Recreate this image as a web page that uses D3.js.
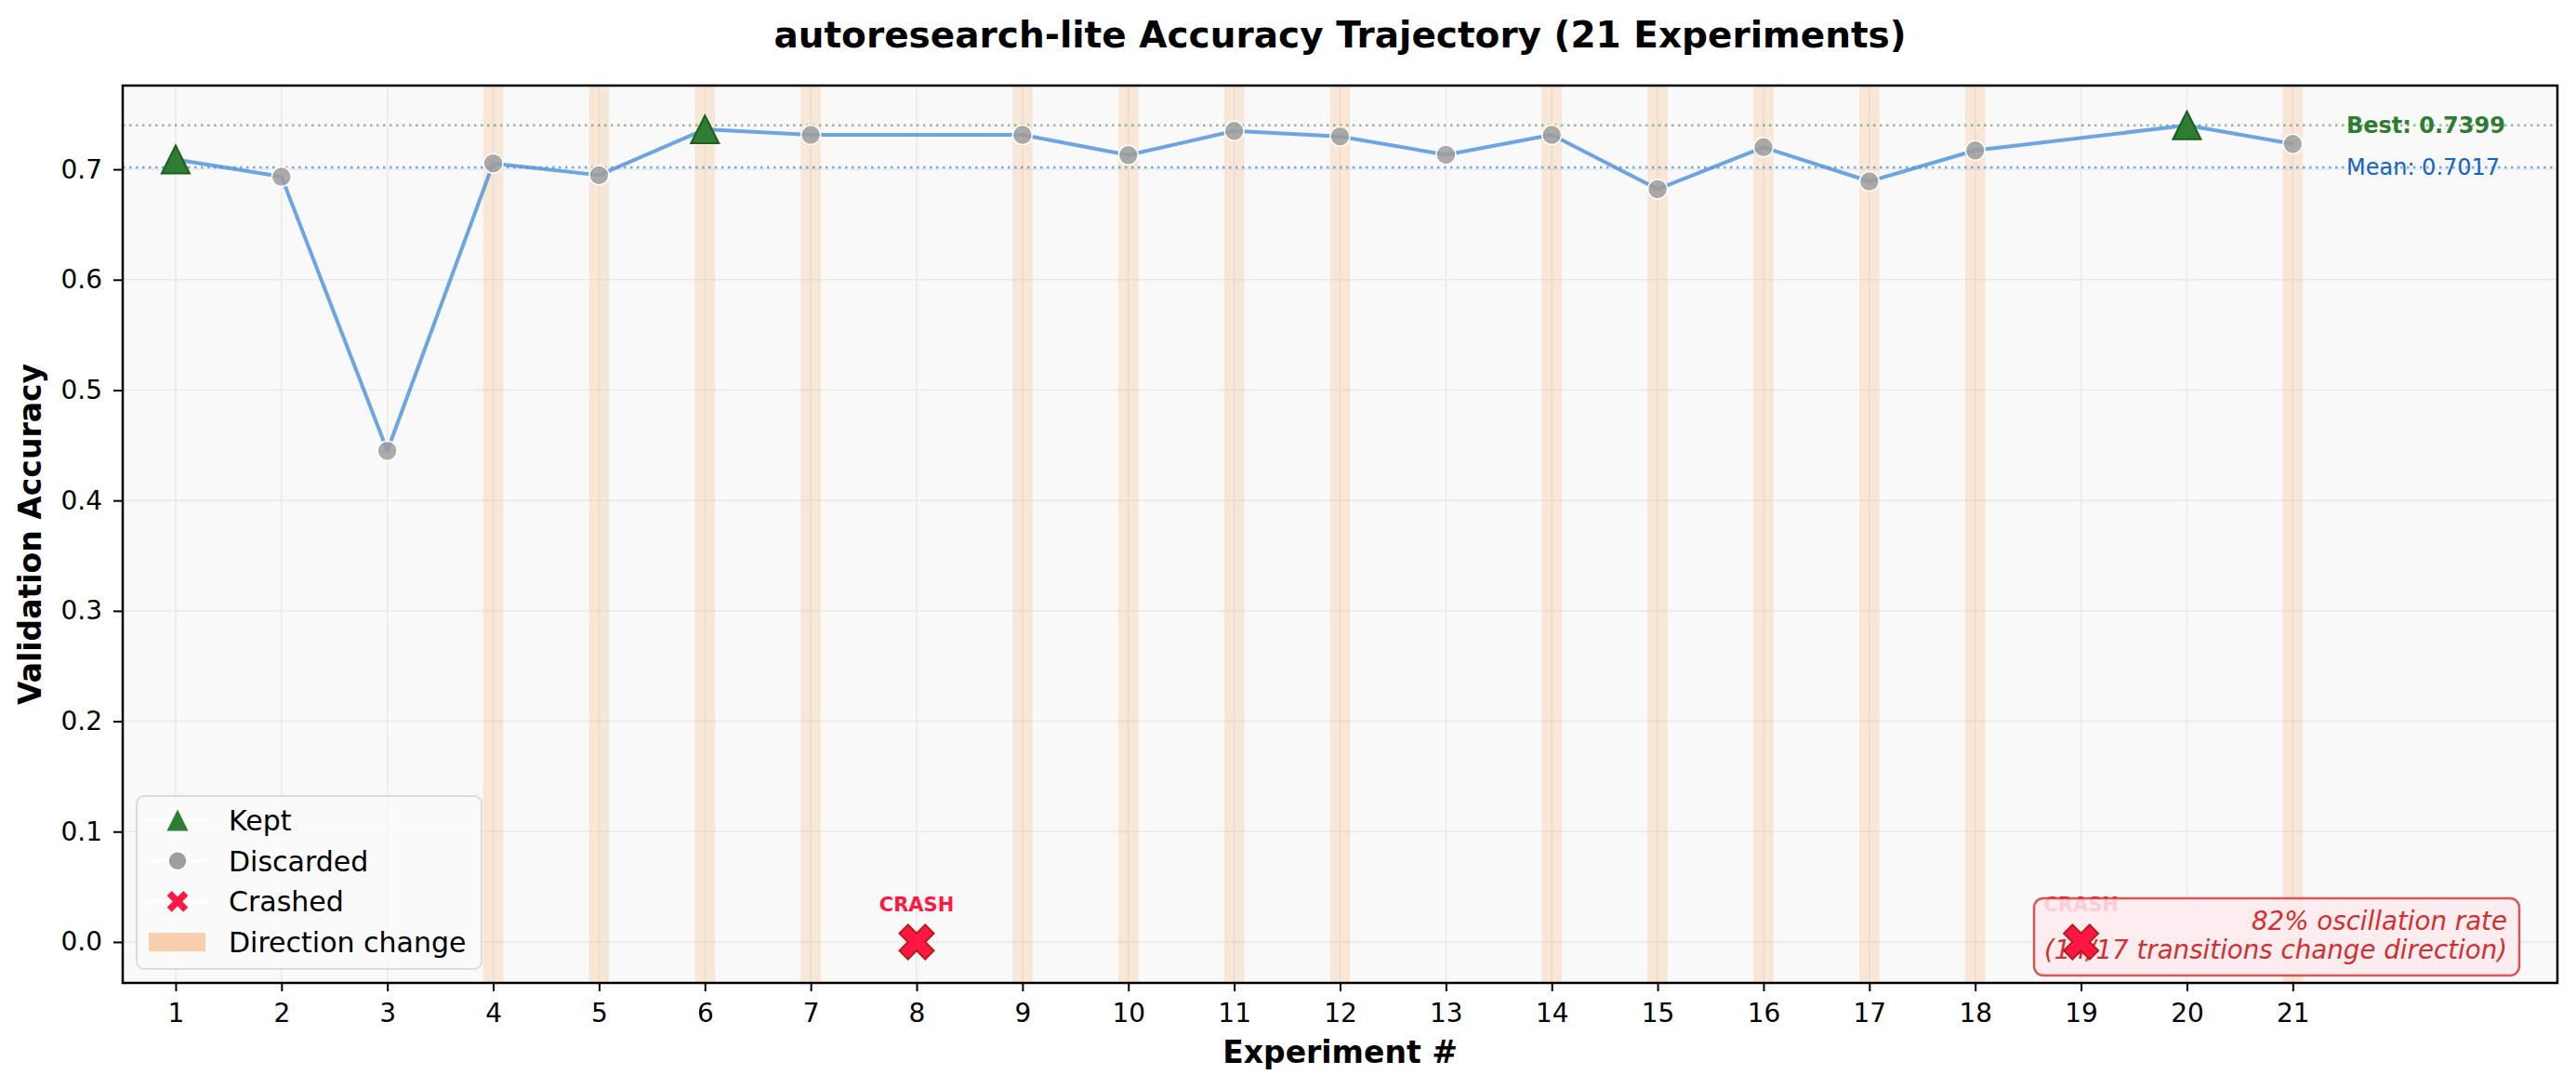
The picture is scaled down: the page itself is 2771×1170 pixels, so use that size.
<!DOCTYPE html>
<html>
<head>
<meta charset="utf-8">
<script src="https://cdn.jsdelivr.net/npm/d3@7"></script>
<style>
  body { margin: 0; background: #fff; }
  svg { display: block; font-family: "DejaVu Sans", sans-serif; }
</style>
</head>
<body>
<svg width="2771" height="1170"></svg>
<script>
// experiment numbers and outcomes
var experiments = d3.range(1, 22);
var accuracy = [0.709, 0.6933, 0.445, 0.7054, 0.6947, 0.7362, 0.7312, null, 0.7312, 0.7129,
  0.7348, 0.7298, 0.7132, 0.7312, 0.682, 0.72, 0.6891, 0.7171, null, 0.7399, 0.723];
var outcomes = ["kept", "discarded", "discarded", "discarded", "discarded", "kept", "discarded", "crash",
  "discarded", "discarded", "discarded", "discarded", "discarded", "discarded", "discarded",
  "discarded", "discarded", "discarded", "crash", "kept", "discarded"];
var directionChanges = [4, 5, 6, 7, 9, 10, 11, 12, 14, 15, 16, 17, 18, 21];
var yTicks = [0.0, 0.1, 0.2, 0.3, 0.4, 0.5, 0.6, 0.7];
var bestAcc = 0.7399;
var meanAcc = 0.7017;
var annotationLines = ["82% oscillation rate", "(14/17 transitions change direction)"];

var svg = d3.select("svg"),
  width = +svg.attr("width"),
  height = +svg.attr("height");

var plotLeft = 132, plotRight = 2751, plotTop = 92, plotBottom = 1057;

var x = d3.scaleLinear().domain([0.5, 23.5]).range([plotLeft, plotRight]);
var y = d3.scaleLinear().domain([-0.0371, 0.7759]).range([plotBottom, plotTop]);

var points = experiments.map(function(e, i) {
  return { exp: e, acc: accuracy[i], outcome: outcomes[i] };
});
var valid = points.filter(function(d) { return d.outcome !== "crash"; });
var crashes = points.filter(function(d) { return d.outcome === "crash"; });

// axes background
svg.append("rect")
  .attr("x", plotLeft).attr("y", plotTop)
  .attr("width", plotRight - plotLeft).attr("height", plotBottom - plotTop)
  .attr("fill", "#f9f9f9");

// grid
var grid = svg.append("g").attr("stroke", "#e9e9e9").attr("stroke-width", 1.5);
grid.selectAll("line.gx").data(experiments).enter().append("line")
  .attr("x1", function(d) { return x(d); }).attr("x2", function(d) { return x(d); })
  .attr("y1", plotTop).attr("y2", plotBottom);
grid.selectAll("line.gy").data(yTicks).enter().append("line")
  .attr("y1", function(d) { return y(d); }).attr("y2", function(d) { return y(d); })
  .attr("x1", plotLeft).attr("x2", plotRight);

// direction change bands
svg.append("g").selectAll("rect").data(directionChanges).enter().append("rect")
  .attr("x", function(d) { return x(d - 0.095); })
  .attr("width", function(d) { return x(d + 0.095) - x(d - 0.095); })
  .attr("y", plotTop).attr("height", plotBottom - plotTop)
  .attr("fill", "#f4a460").attr("opacity", 0.22);

// best / mean reference lines
svg.append("line")
  .attr("x1", plotLeft).attr("x2", plotRight)
  .attr("y1", y(bestAcc)).attr("y2", y(bestAcc))
  .attr("stroke", "#2e7d32").attr("stroke-opacity", 0.5)
  .attr("stroke-width", 2.5).attr("stroke-dasharray", "2.5,4.5");
svg.append("line")
  .attr("x1", plotLeft).attr("x2", plotRight)
  .attr("y1", y(meanAcc)).attr("y2", y(meanAcc))
  .attr("stroke", "#4a90d9").attr("stroke-opacity", 0.75)
  .attr("stroke-width", 2.5).attr("stroke-dasharray", "2.5,4.5");

// trajectory (crashed runs are skipped)
var line = d3.line()
  .x(function(d) { return x(d.exp); })
  .y(function(d) { return y(d.acc); });
svg.append("path")
  .datum(valid)
  .attr("d", line)
  .attr("fill", "none")
  .attr("stroke", "#4a90d9").attr("stroke-opacity", 0.8)
  .attr("stroke-width", 4).attr("stroke-linejoin", "round");

// marker shapes
function triPath(s) {
  var h = s / 2;
  return "M0," + (-h) + "L" + h + "," + h + "L" + (-h) + "," + h + "Z";
}
// filled plus rotated 45 degrees, s = bounding box side
function xPath(s) {
  var u = s / (4 * Math.SQRT2);
  var pts = [[-1, -3], [1, -3], [1, -1], [3, -1], [3, 1], [1, 1], [1, 3], [-1, 3], [-1, 1], [-3, 1], [-3, -1], [-1, -1]];
  var c = Math.SQRT1_2;
  return "M" + pts.map(function(p) {
    var px = p[0] * u, py = p[1] * u;
    return [(px - py) * c, (px + py) * c].join(",");
  }).join("L") + "Z";
}

svg.append("g").selectAll("circle")
  .data(valid.filter(function(d) { return d.outcome === "discarded"; }))
  .enter().append("circle")
  .attr("cx", function(d) { return x(d.exp); })
  .attr("cy", function(d) { return y(d.acc); })
  .attr("r", 10.5)
  .attr("fill", "#9e9e9e").attr("fill-opacity", 0.85)
  .attr("stroke", "#fff").attr("stroke-width", 1.5);

svg.append("g").selectAll("path")
  .data(valid.filter(function(d) { return d.outcome === "kept"; }))
  .enter().append("path")
  .attr("transform", function(d) { return "translate(" + x(d.exp) + "," + y(d.acc) + ")"; })
  .attr("d", triPath(30))
  .attr("fill", "#2e7d32").attr("stroke", "#1b5e20").attr("stroke-width", 2);

// crash labels sit under the annotation box
svg.append("g").selectAll("text")
  .data(crashes).enter().append("text")
  .attr("x", function(d) { return x(d.exp); })
  .attr("y", y(0) - 33)
  .attr("text-anchor", "middle")
  .attr("font-size", 21).attr("font-weight", "bold")
  .attr("fill", "#ff1744")
  .text("CRASH");

// oscillation annotation
svg.append("rect")
  .attr("x", 2188).attr("y", 966)
  .attr("width", 522).attr("height", 83)
  .attr("rx", 10)
  .attr("fill", "#ffebee").attr("fill-opacity", 0.85)
  .attr("stroke", "#d32f2f").attr("stroke-opacity", 0.8).attr("stroke-width", 2.5);
svg.append("g").selectAll("text")
  .data(annotationLines).enter().append("text")
  .attr("x", 2697)
  .attr("y", function(d, i) { return 1000 + i * 31; })
  .attr("text-anchor", "end")
  .attr("font-size", 27.7).attr("font-style", "italic")
  .attr("fill", "#d32f2f")
  .text(function(d) { return d; });

svg.append("g").selectAll("path")
  .data(crashes).enter().append("path")
  .attr("transform", function(d) { return "translate(" + x(d.exp) + "," + y(0) + ")"; })
  .attr("d", xPath(37))
  .attr("fill", "#ff1744").attr("stroke", "#b71c1c").attr("stroke-width", 2);

// best / mean labels
svg.append("text")
  .attr("x", 2524).attr("y", y(bestAcc))
  .attr("dy", "0.35em")
  .attr("font-size", 24).attr("font-weight", "bold")
  .attr("fill", "#2e7d32")
  .text("Best: " + bestAcc.toFixed(4));
svg.append("text")
  .attr("x", 2524).attr("y", y(meanAcc))
  .attr("dy", "0.35em")
  .attr("font-size", 24)
  .attr("fill", "#1565c0")
  .text("Mean: " + meanAcc.toFixed(4));

// axes
var xAxis = svg.append("g")
  .attr("transform", "translate(0," + plotBottom + ")")
  .call(d3.axisBottom(x).tickValues(experiments).tickSize(9).tickPadding(13).tickFormat(d3.format("d")));
var yAxis = svg.append("g")
  .attr("transform", "translate(" + plotLeft + ",0)")
  .call(d3.axisLeft(y).tickValues(yTicks).tickSize(10).tickPadding(12).tickFormat(d3.format(".1f")));
[xAxis, yAxis].forEach(function(a) {
  a.select(".domain").remove();
  a.selectAll(".tick line").attr("stroke", "#000").attr("stroke-width", 2);
  a.selectAll(".tick text")
    .attr("font-family", "DejaVu Sans").attr("font-size", 28).attr("fill", "#000");
});

// spines
svg.append("rect")
  .attr("x", plotLeft).attr("y", plotTop)
  .attr("width", plotRight - plotLeft).attr("height", plotBottom - plotTop)
  .attr("fill", "none").attr("stroke", "#000").attr("stroke-width", 2.5);

// legend
var legend = svg.append("g");
legend.append("rect")
  .attr("x", 147).attr("y", 856)
  .attr("width", 371).attr("height", 186)
  .attr("rx", 8)
  .attr("fill", "#fafafa").attr("fill-opacity", 0.85)
  .attr("stroke", "#dcdcdc").attr("stroke-width", 2);

var legendItems = [
  { label: "Kept", kind: "kept" },
  { label: "Discarded", kind: "discarded" },
  { label: "Crashed", kind: "crash" },
  { label: "Direction change", kind: "band" }
];
var rows = legend.selectAll("g.row").data(legendItems).enter().append("g")
  .attr("transform", function(d, i) { return "translate(0," + (882 + i * 43.7) + ")"; });
rows.filter(function(d) { return d.kind !== "band"; }).append("line")
  .attr("x1", 158).attr("x2", 223)
  .attr("stroke", "#fff").attr("stroke-width", 4);
rows.each(function(d) {
  var r = d3.select(this);
  if (d.kind === "kept") {
    r.append("path").attr("transform", "translate(191,0)").attr("d", triPath(23))
      .attr("fill", "#2e7d32");
  } else if (d.kind === "discarded") {
    r.append("circle").attr("cx", 191).attr("r", 10).attr("fill", "#9e9e9e")
      .attr("stroke", "#fff").attr("stroke-width", 1.5);
  } else if (d.kind === "crash") {
    r.append("path").attr("transform", "translate(191,0)").attr("d", xPath(25))
      .attr("fill", "#ff1744").attr("stroke", "#fff").attr("stroke-width", 1.5);
  } else {
    r.append("rect").attr("x", 160).attr("y", -10).attr("width", 61).attr("height", 20)
      .attr("fill", "#f4a460").attr("opacity", 0.5);
  }
});
rows.append("text")
  .attr("x", 246).attr("dy", "0.36em")
  .attr("font-size", 30).attr("fill", "#000")
  .text(function(d) { return d.label; });

// titles
svg.append("text")
  .attr("x", (plotLeft + plotRight) / 2).attr("y", 51)
  .attr("text-anchor", "middle")
  .attr("font-size", 39).attr("font-weight", "bold")
  .text("autoresearch-lite Accuracy Trajectory (21 Experiments)");
svg.append("text")
  .attr("x", (plotLeft + plotRight) / 2).attr("y", 1143)
  .attr("text-anchor", "middle")
  .attr("font-size", 33).attr("font-weight", "bold")
  .text("Experiment #");
svg.append("text")
  .attr("transform", "translate(44," + (plotTop + plotBottom) / 2 + ") rotate(-90)")
  .attr("text-anchor", "middle")
  .attr("font-size", 33).attr("font-weight", "bold")
  .text("Validation Accuracy");
</script>
</body>
</html>
